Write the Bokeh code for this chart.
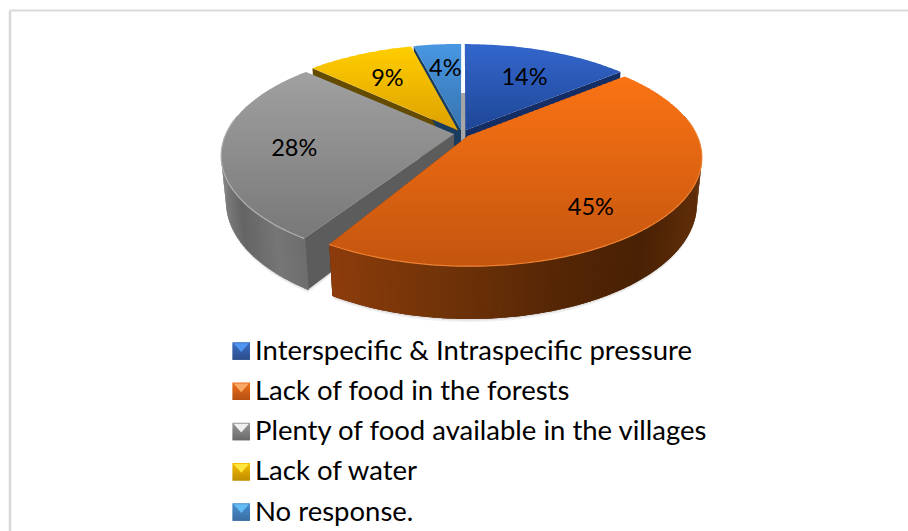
import math
from bokeh.plotting import figure
from bokeh.models import Range1d
from bokeh.core.properties import value
from bokeh.embed import file_html
from bokeh.resources import INLINE

categories = ["Interspecific & Intraspecific pressure", "Lack of food in the forests",
              "Plenty of food available in the villages", "Lack of water", "No response."]
shares = [14, 44.5, 28.5, 9, 4]
labels = ["14%", "45%", "28%", "9%", "4%"]

CX, CY = 461.5, 133.0
A, B, K = 228.0, 104.0, 0.194
D, M = 46.0, 0.02
E = 0.035
FONT = "Lato"

top_grad = [((51,102,204),(30,70,150)), ((250,115,20),(195,85,15)), ((160,160,160),(120,120,120)),
            ((255,205,0),(220,160,0)), ((72,150,225),(55,115,175))]
rim = [None, (240,130,50), (178,178,178), None, None]
radial = [(20,45,100), (110,50,10), (92,92,92), (100,75,0), (25,60,95)]
trim_start = [0, 0, 2.4, 0, 0]
trim_end = [0, 0, 0.8, 0, 0]

p = figure(width=908, height=531, output_backend="svg", toolbar_location=None,
           x_range=Range1d(0, 908), y_range=Range1d(531, 0), min_border=0)
p.axis.visible = False
p.grid.visible = False
p.outline_line_color = None
p.background_fill_color = "white"
p.border_fill_color = "white"


def rgb(c):
    return "#%02x%02x%02x" % tuple(int(round(v)) for v in c)


def mix(a, b, t):
    t = max(0.0, min(1.0, t))
    return tuple(a[i] + (b[i] - a[i]) * t for i in range(3))


def proj(X, Y, Z=0.0):
    w = 1 + K * Y + M * Z
    return CX + A * X / w, CY + (-B * Y + D * Z) / w


def clip(poly, y0, y1):
    def cut(pts, lim, keep_low):
        out = []
        n = len(pts)
        for i in range(n):
            a, b = pts[i], pts[(i + 1) % n]
            ina = a[1] <= lim if keep_low else a[1] >= lim
            inb = b[1] <= lim if keep_low else b[1] >= lim
            if ina:
                out.append(a)
            if ina != inb:
                t = (lim - a[1]) / (b[1] - a[1])
                out.append((a[0] + (b[0] - a[0]) * t, lim))
        return out
    r = cut(poly, y0, False)
    return cut(r, y1, True) if r else r


def fill(poly, color, alpha=1.0):
    p.patch([q[0] for q in poly], [q[1] for q in poly], fill_color=color, line_color=None,
            fill_alpha=alpha)


def gradient_v(poly, ca, cb, step=2.0):
    ys = [q[1] for q in poly]
    y0, y1 = min(ys), max(ys)
    y = y0
    while y < y1:
        band = clip(poly, y, y + step + 0.6)
        if len(band) >= 3:
            fill(band, rgb(mix(ca, cb, (y - y0) / max(y1 - y0, 1))))
        y += step


bounds = []
acc = 0.0
for s in shares:
    bounds.append((acc * 3.6, (acc + s) * 3.6))
    acc += s


def slice_pts(i):
    a0, a1 = bounds[i]
    t0, t1 = a0 + trim_start[i], a1 - trim_end[i]
    mid = math.radians((a0 + a1) / 2)
    ox, oy = E * math.sin(mid), E * math.cos(mid)
    n = max(4, int(t1 - t0))
    return ox, oy, [(ox + math.sin(math.radians(t0 + (t1 - t0) * j / n)),
                     oy + math.cos(math.radians(t0 + (t1 - t0) * j / n))) for j in range(n + 1)]


def wall_arc(i, stops, base):
    ox, oy, pts = slice_pts(i)
    vis = [q for q in pts if q[1] <= 0.18]
    # solid base below the shaded strips, so strip seams do not show white
    fill([proj(*q) for q in vis] + [proj(q[0], q[1], 1) for q in reversed(vis)], rgb(base))
    for j in range(len(vis) - 1):
        (x0, y0), (x1, y1) = vis[j], vis[j + 1]
        q = [proj(x0, y0), proj(x1, y1), proj(x1, y1, 1), proj(x0, y0, 1)]
        xm = (q[0][0] + q[1][0]) / 2
        c = stops[0][1]
        for (xa, ca), (xb, cb) in zip(stops, stops[1:]):
            if xa <= xm <= xb:
                c = mix(ca, cb, (xm - xa) / (xb - xa))
                break
        else:
            c = stops[-1][1] if xm > stops[-1][0] else stops[0][1]
        r0 = (x0 - (x1 - x0) * 0.3, y0 - (y1 - y0) * 0.3)
        fill([proj(*r0), proj(x1, y1), proj(x1, y1, 1), proj(r0[0], r0[1], 1)], rgb(c))


def wall_radial(i, edge, ca):
    ox, oy, pts = slice_pts(i)
    e = pts[0] if edge == 0 else pts[-1]
    fill([proj(ox, oy), proj(*e), proj(e[0], e[1], 1), proj(ox, oy, 1)], rgb(ca))


def top_face(i):
    ox, oy, pts = slice_pts(i)
    poly = [proj(ox, oy)] + [proj(*q) for q in pts]
    gradient_v(poly, *top_grad[i])
    if rim[i]:
        vis = [proj(*q) for q in pts if q[1] < oy + 0.15]
        p.line([q[0] for q in vis], [q[1] for q in vis], line_color=rgb(rim[i]), line_width=1.2)


# faint soft shadow under the front of the pie
for i, grow, alpha in ((1, 1.06, 0.05), (1, 1.03, 0.07), (2, 1.06, 0.05), (2, 1.03, 0.07)):
    ox, oy, pts = slice_pts(i)
    fill([proj(ox, oy, grow)] + [proj(q[0], q[1], grow) for q in pts], "#000000", alpha)

# strip seen through the gap between the two top slices
gap = [proj(-0.006, 0.42), proj(0.02, 0.42), proj(0.02, -0.12), proj(-0.006, -0.12)]
fill(gap, "#a6a6a6")

# back slices' cut faces
wall_radial(3, 0, radial[3])
wall_radial(4, 0, radial[4])
wall_radial(0, 1, radial[0])
top_face(3)
top_face(4)
top_face(0)

# gray slice
wall_radial(2, 0, radial[2])
wall_arc(2, [(221, (128,128,128)), (240, (100,100,100)), (275, (118,118,118)), (310, (108,108,108))], (110,110,110))
top_face(2)

# orange slice
wall_radial(1, 1, (135,60,10))
wall_arc(1, [(330, (140,60,12)), (430, (115,52,8)), (560, (85,38,5)), (640, (72,33,4)), (705, (100,48,10))], (85,38,5))
top_face(1)

# data labels: on the plane, by radius and turn from each slice's mid angle
label_r = [0.655, 0.757, 0.694, 0.671, 0.698]
label_turn = [1.3, 11.0, -2.3, -0.6, 0.7]
for i, t in enumerate(labels):
    a0, a1 = bounds[i]
    mid = math.radians((a0 + a1) / 2)
    ang = math.radians((a0 + a1) / 2 + label_turn[i])
    x, y = proj(E * math.sin(mid) + label_r[i] * math.sin(ang), E * math.cos(mid) + label_r[i] * math.cos(ang))
    p.text([x], [y], text=[t], text_font=value(FONT), text_font_size="23.5px", text_color="#000000",
           text_align="center", text_baseline="middle")

# legend
KEY_X, KEY_Y0, KEY_STEP, KEY_W, KEY_H = 232.0, 350.5, 40.25, 17.5, 17.5
TEXT_DY = -2.0
key_cols = [((46,100,190),(30,65,130)), ((235,110,25),(180,80,20)), ((150,150,150),(105,105,105)),
            ((245,190,0),(190,140,0)), ((60,135,205),(45,100,155))]
key_hi = [(80,150,240), (250,170,100), (240,240,240), (255,230,60), (100,190,245)]
for i, name in enumerate(categories):
    yc = KEY_Y0 + KEY_STEP * i
    xl, xr, yt, yb = KEY_X, KEY_X + KEY_W, yc - KEY_H / 2, yc + KEY_H / 2
    gradient_v([(xl, yt), (xr, yt), (xr, yb), (xl, yb)], *key_cols[i], step=1.0)
    fill([(xl + 1, yt + 1), (xr - 1, yt + 1), ((xl + xr) / 2, yc + 1)], rgb(key_hi[i]))
    p.text([KEY_X + 22.5], [yc + TEXT_DY], text=[name], text_font=value(FONT), text_font_size="27.5px",
           text_color="#000000", text_align="left", text_baseline="middle")

# chart frame
FX0, FY0, FX1, FY1 = 9.5, 10.0, 908.0, 531.0
p.line([FX0, FX0], [FY0, FY1], line_color="#d9d9d9", line_width=2.5)
p.line([FX0, FX1], [FY0, FY0], line_color="#d9d9d9", line_width=2)

open("out.html", "w").write(file_html(p, INLINE))
